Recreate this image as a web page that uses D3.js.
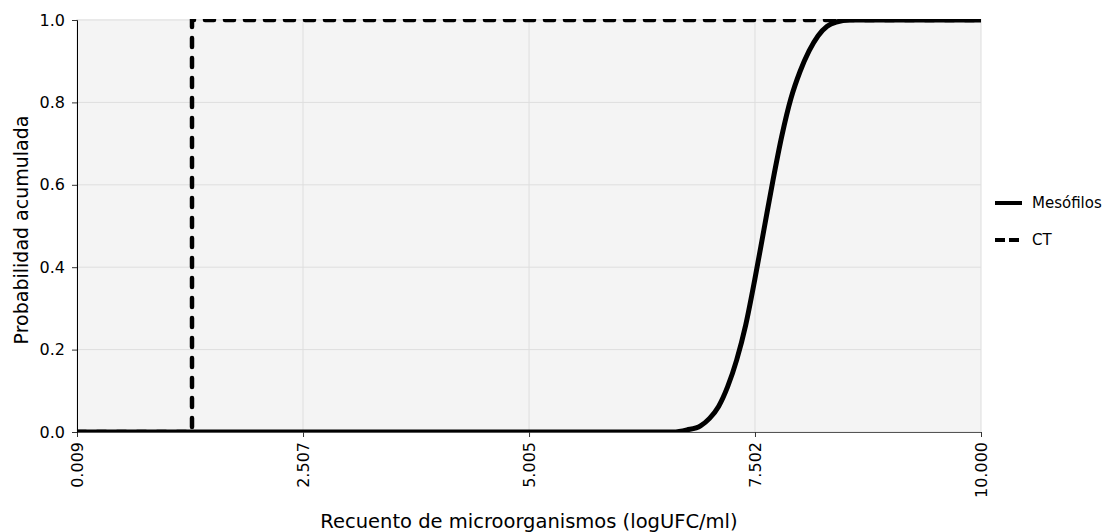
<!DOCTYPE html>
<html><head><meta charset="utf-8">
<script src="https://cdn.jsdelivr.net/npm/d3@7/dist/d3.min.js"></script>
<style>
body{margin:0;background:#fff;}
text{font-family:"DejaVu Sans",Verdana,sans-serif;fill:#000;}
</style></head>
<body><svg id="c" width="1109" height="532"></svg>
<script>
const xTickValues = [0.009, 2.507, 5.005, 7.502, 10.000];
const xTickLabels = ["0.009", "2.507", "5.005", "7.502", "10.000"];
const yTickValues = [0, 0.2, 0.4, 0.6, 0.8, 1.0];
const seriesNames = ["Mesófilos", "CT"];
const mesofilosX = [0.009, 6.6, 6.75, 6.9, 7.0, 7.1, 7.2, 7.3, 7.4, 7.5, 7.6, 7.7, 7.8, 7.9, 8.0, 8.1, 8.2, 8.3, 8.4, 8.55, 10.0];
const mesofilosY = [0, 0, 0.005, 0.015, 0.033, 0.062, 0.11, 0.175, 0.26, 0.37, 0.49, 0.61, 0.72, 0.81, 0.875, 0.925, 0.962, 0.985, 0.995, 1, 1];
const ctX = [0.009, 1.28, 1.28, 10.0];
const ctY = [0, 0, 1, 1];

const svg = d3.select("#c");
const L = 77, R = 981, T = 20, B = 432;
const x = d3.scaleLinear().domain([0.009, 10]).range([L, R]);
const y = d3.scaleLinear().domain([0, 1]).range([B, T]);

svg.append("defs").append("clipPath").attr("id","clip")
  .append("rect").attr("x", L).attr("y", T-1).attr("width", R-L+1).attr("height", B-T+1);

svg.append("rect").attr("x", L).attr("y", T-1).attr("width", R-L).attr("height", B-T+1).attr("fill", "#f4f4f4");

// grid
svg.append("g").selectAll("line").data(yTickValues).join("line")
  .attr("x1", L).attr("x2", R).attr("y1", d=>y(d)).attr("y2", d=>y(d))
  .attr("stroke", "#dedede").attr("stroke-width", 1);
svg.append("g").selectAll("line").data(xTickValues).join("line")
  .attr("x1", d=>x(d)).attr("x2", d=>x(d)).attr("y1", T-1).attr("y2", B)
  .attr("stroke", "#dedede").attr("stroke-width", 1);

// axes
const gx = svg.append("g").attr("transform", `translate(0,${B})`)
  .call(d3.axisBottom(x).tickValues(xTickValues).tickFormat((d,i)=>xTickLabels[i]).tickSizeOuter(0).tickSize(5));
gx.select(".domain").attr("stroke", "#555");
gx.selectAll(".tick line").attr("stroke", "#333");
gx.selectAll(".tick text").attr("transform","rotate(-90)").attr("text-anchor","end")
  .attr("x", -10).attr("y", 0).attr("dy","0.36em").style("font-size","16px").style("font-family",'"DejaVu Sans",Verdana,sans-serif');

const gy = svg.append("g").attr("transform", `translate(${L},0)`)
  .call(d3.axisLeft(y).tickValues(yTickValues).tickFormat(d3.format(".1f")).tickSizeOuter(0).tickSize(5));
gy.select(".domain").attr("stroke", "#000");
gy.selectAll(".tick line").attr("stroke", "#333");
gy.selectAll(".tick text").attr("x", -12).style("font-size","16px").style("font-family",'"DejaVu Sans",Verdana,sans-serif');

// lines
const plot = svg.append("g").attr("clip-path","url(#clip)");
const mesData = mesofilosX.map((v,i)=>[v, mesofilosY[i]]);
const ctData = ctX.map((v,i)=>[v, ctY[i]]);
plot.append("path").datum(ctData)
  .attr("d", d3.line().x(d=>x(d[0])).y(d=>y(d[1])))
  .attr("fill","none").attr("stroke","#000").attr("stroke-width",4.5)
  .attr("stroke-dasharray","9,11").attr("stroke-linecap","round");
plot.append("path").datum(mesData)
  .attr("d", d3.line().x(d=>x(d[0])).y(d=>y(d[1])).curve(d3.curveMonotoneX))
  .attr("fill","none").attr("stroke","#000").attr("stroke-width",5);

// titles
svg.append("text").attr("x", 529).attr("y", 528).attr("text-anchor","middle")
  .style("font-size","19.5px").text("Recuento de microorganismos (logUFC/ml)");
svg.append("text").attr("transform","translate(28,230) rotate(-90)").attr("text-anchor","middle")
  .style("font-size","19px").text("Probabilidad acumulada");

// legend
const lg = svg.append("g");
const legY = [203, 240];
const dashes = [null, "10,4"];
seriesNames.forEach((n,i)=>{
  lg.append("line").attr("x1",995).attr("x2",1022).attr("y1",legY[i]).attr("y2",legY[i])
    .attr("stroke","#000").attr("stroke-width",4).attr("stroke-dasharray", dashes[i]);
  lg.append("text").attr("x",1032).attr("y",legY[i]).attr("dy","0.35em")
    .style("font-size","15px").text(n);
});
</script></body></html>
